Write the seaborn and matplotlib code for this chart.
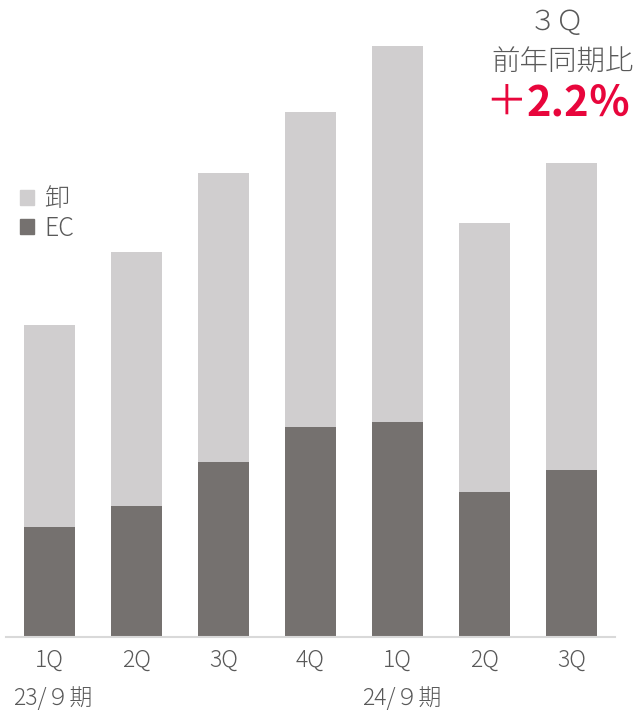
import matplotlib
matplotlib.use("Agg")
import matplotlib.pyplot as plt
import matplotlib.patches as mpatches
import seaborn as sns
import pandas as pd
import numpy as np

# Quarterly sales split by channel (arbitrary units)
quarters = ["1Q", "2Q", "3Q", "4Q", "1Q", "2Q", "3Q"]
ec_sales = [110, 131, 175, 210, 215, 145, 167]
wholesale_sales = [202, 254, 289, 315, 376, 269, 307]
period_labels = ["23/９期", "24/９期"]
yoy_label = "2.2％"

LIGHT = "#D0CECF"
DARK = "#75716F"
TEXT = "#595959"
RED = "#E8063C"

sns.set_theme(style="white")
plt.rcParams["font.family"] = ["Noto Sans CJK JP", "DejaVu Sans"]

df = pd.DataFrame({
    "pos": [f"q{i}" for i in range(len(quarters))],
    "ec": ec_sales,
    "total": np.array(ec_sales) + np.array(wholesale_sales),
})

fig = plt.figure(figsize=(6.39, 7.10), dpi=100)
ax = fig.add_axes([6 / 639, 73 / 710, 609 / 639, 637 / 710])

sns.barplot(data=df, x="pos", y="total", color=LIGHT, width=0.59,
            saturation=1, linewidth=0, ax=ax)
sns.barplot(data=df, x="pos", y="ec", color=DARK, width=0.59,
            saturation=1, linewidth=0, ax=ax)

ax.set_xlim(-0.5, len(quarters) - 0.5)
ax.set_ylim(0, 637)
ax.set_xlabel("")
ax.set_ylabel("")
ax.set_yticks([])
ax.set_xticks(range(len(quarters)))
ax.set_xticklabels(quarters, color=TEXT, fontsize=16.5, fontweight="light")
ax.tick_params(axis="x", length=0, pad=8)
for side in ["top", "right", "left"]:
    ax.spines[side].set_visible(False)
ax.spines["bottom"].set_color("#D9D9D9")
ax.spines["bottom"].set_linewidth(1.5)

# Fiscal-year labels under the quarter ticks
fig.text(13 / 639, 1 - 698 / 710, period_labels[0], color=TEXT, fontsize=16.5,
         fontweight="light", ha="left", va="center")
fig.text(362 / 639, 1 - 698 / 710, period_labels[1], color=TEXT, fontsize=16.5,
         fontweight="light", ha="left", va="center")

# Legend
handles = [mpatches.Patch(color=LIGHT, label="卸"),
           mpatches.Patch(color=DARK, label="EC")]
leg = ax.legend(handles=handles, loc="upper left",
                bbox_to_anchor=(10 / 639, 1 - 176 / 710),
                bbox_transform=fig.transFigure, frameon=False,
                handlelength=0.56, handleheight=0.56, handletextpad=0.4,
                labelspacing=0.1, borderaxespad=0,
                prop={"size": 18, "weight": "light"})
for t in leg.get_texts():
    t.set_color(TEXT)

# Year-over-year callout
fig.text(556 / 639, 1 - 22 / 710, "３Ｑ", color=TEXT, fontsize=20,
         fontweight="light", ha="center", va="center")
fig.text(563 / 639, 1 - 62 / 710, "前年同期比", color=TEXT, fontsize=20.5,
         fontweight="light", ha="center", va="center")
fig.text(527 / 639, 1 - 103 / 710, "＋", color=RED, fontsize=30,
         ha="right", va="center")
fig.text(527 / 639, 1 - 103 / 710, yoy_label, color=RED, fontsize=30,
         fontweight="bold", ha="left", va="center")

fig.savefig("out.png", dpi=100)
